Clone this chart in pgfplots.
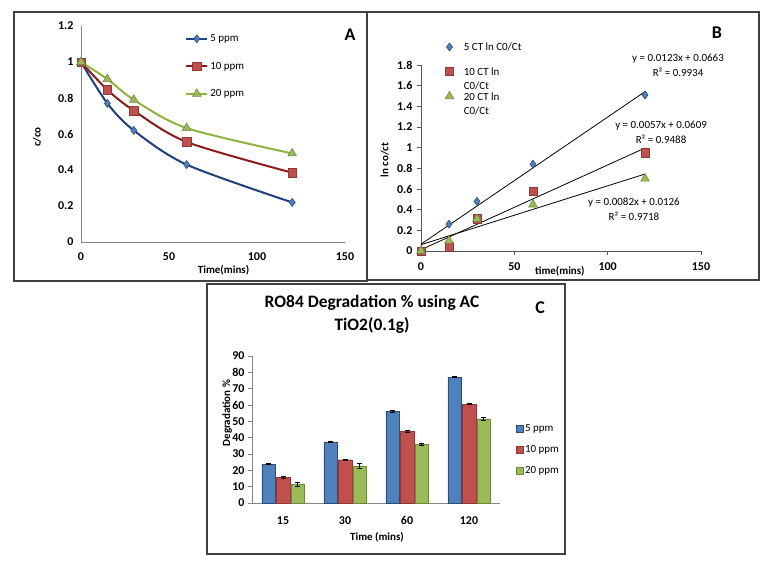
\documentclass[border=0pt]{standalone}
\usepackage{fontspec}
\setmainfont{Carlito}
\usepackage{pgfplots}
\pgfplotsset{compat=1.18}
\definecolor{bluef}{HTML}{4F81BD}
\definecolor{blued}{HTML}{2C4D75}
\definecolor{bluel}{HTML}{1F3F7F}
\definecolor{redf}{HTML}{C0504D}
\definecolor{redd}{HTML}{8C3836}
\definecolor{redl}{HTML}{8B1C1C}
\definecolor{greenf}{HTML}{9BBB59}
\definecolor{greend}{HTML}{71893F}
\definecolor{greenl}{HTML}{8DB440}
\definecolor{axgray}{HTML}{868686}
\definecolor{axdark}{HTML}{595959}
\newcommand{\tf}{\fontsize{11}{13}\selectfont}
\newcommand{\tk}{\fontsize{12}{14}\selectfont}
\begin{document}
\begin{tikzpicture}
\useasboundingbox (0,0) rectangle (768bp,-566bp);
\fill[white] (0,0) rectangle (768bp,-566bp);
\draw[line width=1.2bp, black!75] (14bp,-12bp) rectangle (367bp,-281bp);
\draw[line width=1.2bp, black!75] (367bp,-12bp) rectangle (759bp,-280bp);
\draw[line width=1.2bp, black!75] (207bp,-284bp) rectangle (565bp,-554bp);

% ---------------- Panel A ----------------
\begin{axis}[
  at={(81bp,-242bp)}, anchor=south west,
  scale only axis, width=264bp, height=216bp,
  xmin=0, xmax=150, ymin=0, ymax=1.2,
  xtick={0,50,100,150}, ytick={0,0.2,0.4,0.6,0.8,1,1.2},
  axis x line=bottom, axis y line=left,
  axis line style={-, axgray, line width=1bp},
  major tick length=0pt,
  /pgf/number format/assume math mode=true,
  tick label style={font=\tk\bfseries},
  yticklabel style={xshift=-4bp},
  xticklabel style={yshift=-7bp},
  label style={font=\tf\bfseries},
  xlabel={Time(mins)}, ylabel={c/co},
  xlabel style={at={(axis description cs:0.54,-0.13)}, anchor=center},
  ylabel style={at={(axis description cs:-0.167,0.486)}, anchor=center},
  clip=false,
  legend style={at={(axis description cs:0.383,0.98)}, anchor=north west,
    draw=none, fill=none, font=\tf, row sep=15bp},
  legend cell align=left,
  legend image code/.code={\draw[mark repeat=2,mark phase=2,#1] plot coordinates {(0bp,0bp)(10.5bp,0bp)(21bp,0bp)};},
]
\addplot[bluel, line width=2bp, smooth, mark=diamond*, mark size=4bp,
  mark options={fill=bluef, draw=blued, line width=0.6bp, solid}]
  coordinates {(0,1)(15,0.77)(30,0.62)(60,0.43)(120,0.22)};
\addlegendentry{5 ppm}
\addplot[redl, line width=2bp, smooth, mark=square*, mark size=4.2bp,
  mark options={fill=redf, draw=redd, line width=0.6bp, solid}]
  coordinates {(0,1)(15,0.845)(30,0.73)(60,0.556)(120,0.385)};
\addlegendentry{10 ppm}
\addplot[greenl, line width=2bp, smooth, mark=triangle*, mark size=5bp,
  mark options={fill=greenf, draw=greend, line width=0.6bp, solid}]
  coordinates {(0,1)(15,0.905)(30,0.79)(60,0.633)(120,0.492)};
\addlegendentry{20 ppm}
\end{axis}
\node[font=\fontsize{18}{20}\selectfont\bfseries] at (350bp,-35bp) {A};

% ---------------- Panel B ----------------
\begin{axis}[
  at={(421bp,-251bp)}, anchor=south west,
  scale only axis, width=280bp, height=186bp,
  xmin=0, xmax=150, ymin=0, ymax=1.8,
  xtick={0,50,100,150}, ytick={0,0.2,0.4,0.6,0.8,1,1.2,1.4,1.6,1.8},
  axis x line=bottom, axis y line=left,
  axis line style={-, axdark, line width=1bp},
  tick align=outside, major tick length=4bp,
  every tick/.style={axdark, line width=0.8bp},
  /pgf/number format/assume math mode=true,
  tick label style={font=\tk\bfseries},
  yticklabel style={xshift=-1bp},
  xticklabel style={yshift=-4bp},
  label style={font=\tf\bfseries},
  xlabel={time(mins)}, ylabel={ln co/ct},
  xlabel style={at={(axis description cs:0.496,-0.108)}, anchor=center},
  ylabel style={at={(axis description cs:-0.129,0.489)}, anchor=center},
  clip=false,
  legend style={at={(axis description cs:0.075,1.144)}, anchor=north west,
    draw=none, fill=none, font=\fontsize{11}{14}\selectfont, row sep=10bp},
  legend cell align=left,
  /tikz/every even column/.append style={column sep=0bp},
  /tikz/every odd column/.append style={column sep=8bp},
  legend image code/.code={\draw[mark repeat=2,mark phase=2,#1] plot coordinates {(0bp,0bp)(5bp,0bp)(10bp,0bp)};},
]
\addplot[only marks, mark=diamond*, mark size=4bp,
  mark options={fill=bluef, draw=blued, line width=0.6bp}]
  coordinates {(0,0)(15,0.26)(30,0.48)(60,0.84)(120,1.51)};
\addlegendentry{\raisebox{0pt}[\height][15bp]{5 CT ln C0/Ct}}
\addplot[only marks, mark=square*, mark size=4.2bp,
  mark options={fill=redf, draw=redd, line width=0.6bp}]
  coordinates {(0,0)(15,0.04)(30,0.31)(60,0.58)(120,0.95)};
\addlegendentry{\raisebox{0pt}[\height][0pt]{\begin{tabular}[t]{@{}l@{}}10 CT ln\\C0/Ct\end{tabular}}}
\addplot[only marks, mark=triangle*, mark size=5bp,
  mark options={fill=greenf, draw=greend, line width=0.6bp}]
  coordinates {(0,0)(15,0.10)(30,0.31)(60,0.45)(120,0.70)};
\addlegendentry{\raisebox{0pt}[\height][0pt]{\begin{tabular}[t]{@{}l@{}}20 CT ln\\C0/Ct\end{tabular}}}
\addplot[black, line width=0.8bp, forget plot] coordinates {(0,0.0663)(120,1.5423)};
\addplot[black, line width=0.8bp, forget plot] coordinates {(0,0.0126)(120,0.9966)};
\addplot[black, line width=0.8bp, forget plot] coordinates {(0,0.0609)(120,0.7449)};
\node[align=center, font=\fontsize{11}{15}\selectfont] at (axis cs:137.7,1.796) {y = 0.0123x + 0.0663\\R² = 0.9934};
\node[align=center, font=\fontsize{11}{15}\selectfont] at (axis cs:128.6,1.147) {y = 0.0057x + 0.0609\\R² = 0.9488};
\node[align=center, font=\fontsize{11}{15}\selectfont] at (axis cs:114.1,0.40) {y = 0.0082x + 0.0126\\R² = 0.9718};
\end{axis}
\node[font=\fontsize{18}{20}\selectfont\bfseries] at (717bp,-33bp) {B};

% ---------------- Panel C ----------------
\begin{axis}[
  at={(252bp,-503bp)}, anchor=south west,
  scale only axis, width=248bp, height=147bp,
  ybar=1bp, bar width=13.5bp,
  xmin=-0.5, xmax=3.5, ymin=0, ymax=90,
  xtick={0,1,2,3}, xticklabels={15,30,60,120},
  ytick={0,10,20,30,40,50,60,70,80,90},
  axis x line=bottom, axis y line=left,
  axis line style={-, axgray, line width=1bp},
  tick align=outside, major tick length=4bp,
  major x tick style={draw=none},
  every tick/.style={axgray, line width=0.8bp},
  /pgf/number format/assume math mode=true,
  tick label style={font=\tk\bfseries},
  xticklabel style={yshift=-6bp},
  label style={font=\tf\bfseries},
  xlabel={Time (mins)}, ylabel={Degradation \%},
  xlabel style={at={(axis description cs:0.504,-0.231)}, anchor=center},
  ylabel style={at={(axis description cs:-0.10,0.612)}, anchor=center},
  title={RO84 Degradation \% using AC\\TiO2(0.1g)},
  title style={align=center, font=\fontsize{17.5}{23}\selectfont\bfseries,
    at={(axis description cs:0.484,1.245)}, anchor=center},
  clip=false,
  legend style={at={(axis description cs:1.05,0.56)}, anchor=north west,
    draw=none, fill=none, font=\tf, row sep=8bp},
  legend cell align=left,
  legend image code/.code={\draw[#1, line width=0.5bp] (0bp,-3.5bp) rectangle (7bp,3.5bp);},
  error bars/error bar style={black, line width=0.7bp},
  error bars/error mark options={black, rotate=90, mark size=2.5bp, line width=0.7bp},
]
\addplot[fill=bluef, draw=blued, error bars/.cd, y dir=both, y explicit]
  coordinates {(0,23.8)+-(0,0.4) (1,37.4)+-(0,0.4) (2,56.1)+-(0,0.4) (3,77.1)+-(0,0.4)};
\addlegendentry{5 ppm}
\addplot[fill=redf, draw=redd, error bars/.cd, y dir=both, y explicit]
  coordinates {(0,15.7)+-(0,0.5) (1,26.5)+-(0,0.5) (2,43.9)+-(0,0.5) (3,60.5)+-(0,0.4)};
\addlegendentry{10 ppm}
\addplot[fill=greenf, draw=greend, error bars/.cd, y dir=both, y explicit]
  coordinates {(0,11.6)+-(0,1.2) (1,22.5)+-(0,1.5) (2,35.9)+-(0,0.5) (3,51.5)+-(0,0.8)};
\addlegendentry{20 ppm}
\end{axis}
\node[font=\fontsize{18}{20}\selectfont\bfseries] at (540bp,-308bp) {C};
\end{tikzpicture}
\end{document}
